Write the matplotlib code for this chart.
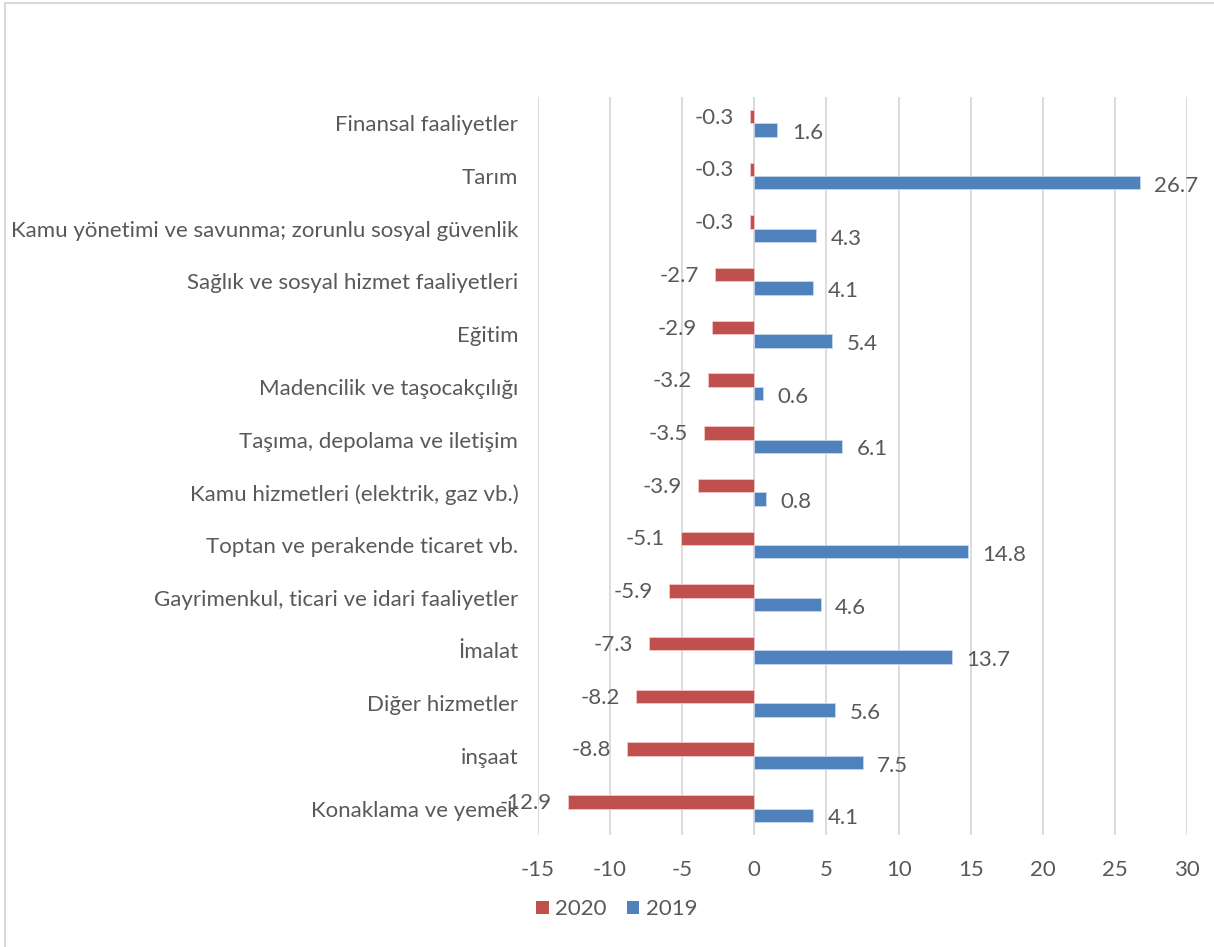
import numpy as np
import matplotlib.pyplot as plt
from matplotlib.lines import Line2D
from matplotlib.patches import Patch

# sectors, bottom to top as drawn
sectors = ['Konaklama ve yemek', 'inşaat', 'Diğer hizmetler', 'İmalat',
           'Gayrimenkul, ticari ve idari faaliyetler', 'Toptan ve perakende ticaret vb.',
           'Kamu hizmetleri (elektrik, gaz vb.)', 'Taşıma, depolama ve iletişim',
           'Madencilik ve taşocakçılığı', 'Eğitim', 'Sağlık ve sosyal hizmet faaliyetleri',
           'Kamu yönetimi ve savunma; zorunlu sosyal güvenlik', 'Tarım', 'Finansal faaliyetler']
v2020 = [-12.9, -8.8, -8.2, -7.3, -5.9, -5.1, -3.9, -3.5, -3.2, -2.9, -2.7, -0.3, -0.3, -0.3]
v2019 = [4.1, 7.5, 5.6, 13.7, 4.6, 14.8, 0.8, 6.1, 0.6, 5.4, 4.1, 4.3, 26.7, 1.6]
xticks = [-15, -10, -5, 0, 5, 10, 15, 20, 25, 30]

red = '#C0504D'
blue = '#4F81BD'
txt = '#595959'
fs = 16

plt.rcParams['font.family'] = ['Lato', 'DejaVu Sans']

fig = plt.figure(figsize=(12.14, 9.47), dpi=100)
ax = fig.add_axes([0.443, 0.1183, 0.535, 0.7793])

y = np.arange(len(sectors))
h = 0.255
ax.barh(y + h / 2, v2020, height=h, color=red, edgecolor='#f2c8c6', linewidth=0.6, zorder=3)
ax.barh(y - h / 2, v2019, height=h, color=blue, edgecolor='#c6d7ee', linewidth=0.6, zorder=3)

for yi, a, b in zip(y, v2020, v2019):
    ax.text(a - 1.1, yi + h / 2 - 0.02, f'{a:.1f}', ha='right', va='center',
            fontsize=fs, color=txt, zorder=4)
    ax.text(b + 1.0, yi - h / 2 - 0.06, f'{b:.1f}', ha='left', va='center',
            fontsize=fs, color=txt, zorder=4)

ax.set_xlim(-15, 30)
ax.set_ylim(-0.5, len(sectors) - 0.5)
ax.set_xticks(xticks)
ax.set_xticklabels([str(t) for t in xticks])
ax.set_yticks(y)
ax.set_yticklabels(sectors)
ax.xaxis.grid(True, color='#d9d9d9', linewidth=1.3, zorder=0)
ax.tick_params(axis='both', length=0, labelsize=fs, colors=txt)
ax.tick_params(axis='x', pad=18)
ax.tick_params(axis='y', pad=14)
for s in ax.spines.values():
    s.set_visible(False)
ax.axvline(0, color='#d9d9d9', linewidth=1.3, zorder=2)

handles = [Patch(facecolor=red), Patch(facecolor=blue)]
fig.legend(handles, ['2020', '2019'], loc='center', bbox_to_anchor=(0.508, 0.040),
           ncol=2, frameon=False, fontsize=fs, labelcolor=txt,
           handlelength=0.55, handleheight=0.55, handletextpad=0.3, columnspacing=0.9)

# chart border remnants
fig.add_artist(Line2D([0.0045, 0.0045], [0.0, 0.997], color='#d9d9d9', linewidth=1.5))
fig.add_artist(Line2D([0.0045, 1.0], [0.997, 0.997], color='#d9d9d9', linewidth=1.5))

fig.savefig('out.png', dpi=100)
